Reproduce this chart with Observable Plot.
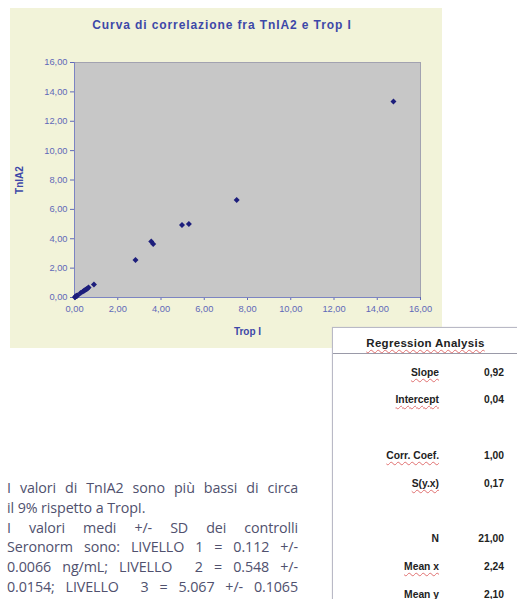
<!DOCTYPE html>
<html><head><meta charset="utf-8">
<script src="https://cdn.jsdelivr.net/npm/d3@7"></script>
<script src="https://cdn.jsdelivr.net/npm/@observablehq/plot@0.6"></script>
<style>
body{margin:0;background:#fff;width:517px;height:599px;overflow:hidden;position:relative;font-family:Arial,"Liberation Sans",sans-serif;}
#panel{position:absolute;left:10px;top:8px;width:432px;height:340px;background:#f2f3d9;}
#title{position:absolute;left:0;top:10px;width:424px;text-align:center;font-weight:bold;font-size:12px;letter-spacing:0.9px;color:#3d48a8;}
#chart{position:absolute;left:0;top:34px;}
#table{position:absolute;left:332px;top:327px;width:200px;height:290px;background:#fff;border:1px solid #b9b9c6;box-shadow:0 0 1px #ccc;}
#thead{position:absolute;left:0;top:0;width:185px;height:25px;border-bottom:1px solid #9a9aa8;text-align:center;font-weight:bold;font-size:11.5px;line-height:30px;color:#222;letter-spacing:0.3px;}
.row{position:absolute;left:0;width:200px;font-weight:bold;font-size:10.3px;color:#222;}
.lab{position:absolute;right:94px;white-space:nowrap;}
.val{position:absolute;right:29px;white-space:nowrap;}
.sq{text-decoration:underline wavy #e07070;text-decoration-thickness:1px;text-underline-offset:2px;}
#para{position:absolute;left:7px;top:478px;width:291px;font-family:"Open Sans","Noto Sans",sans-serif;font-size:14.3px;letter-spacing:-0.1px;line-height:19.8px;color:#50516e;}
#para div{text-align:justify;text-align-last:justify;}
#para div.l{text-align:left;text-align-last:left;}
</style></head>
<body>
<div id="panel"><div id="title"></div><div id="chart"></div></div>
<div id="table"><div id="thead"><span class="sq">Regression Analysis</span></div></div>
<div id="para"></div>
<script>
const chartTitle = "Curva di correlazione fra TnIA2 e Trop I";
const xLabel = "Trop I";
const yLabel = "TnIA2";
const tropI = [0.02,0.04,0.06,0.10,0.11,0.13,0.28,0.38,0.44,0.50,0.55,0.60,0.65,0.90,2.82,3.55,3.64,4.97,5.29,7.50,14.75];
const tnIA2 = [0.02,0.05,0.08,0.10,0.12,0.14,0.30,0.40,0.46,0.52,0.56,0.62,0.68,0.88,2.56,3.81,3.65,4.94,5.01,6.64,13.35];
const axisTicks = [0,2,4,6,8,10,12,14,16];
const statLabels = ["Slope","Intercept","Corr. Coef.","S(y.x)","N","Mean x","Mean y"];
const statValues = ["0,92","0,04","1,00","0,17","21,00","2,24","2,10"];
const statSquiggle = [true,true,true,true,false,true,true];
const paraLines = [
  "I valori di TnIA2 sono più bassi di circa",
  "il 9% rispetto a TropI.",
  "I valori medi +/- SD dei controlli",
  "Seronorm sono: LIVELLO 1 = 0.112 +/-",
  "0.0066 ng/mL; LIVELLO  2 = 0.548 +/-",
  "0.0154; LIVELLO  3 = 5.067 +/- 0.1065"
];
const paraLeft = [false,true,false,false,false,false];

document.getElementById("title").textContent = chartTitle;
const data = tropI.map((x,i)=>({x, y:tnIA2[i]}));
const fmt = d => d.toFixed(2).replace(".", ",");
const axisColor = "#5f68b8";
const plot = Plot.plot({
  width: 432, height: 306,
  marginLeft: 64, marginRight: 22, marginTop: 20, marginBottom: 51,
  style: {background: "transparent", fontFamily: "Arial, Liberation Sans, sans-serif", fontSize: "9.3px"},
  x: {domain: [0,16]},
  y: {domain: [0,16]},
  marks: [
    Plot.frame({fill: "#c7c7c7", stroke: "#a2a2b0"}),
    Plot.axisY({ticks: axisTicks, tickFormat: fmt, tickSize: 4, tickPadding: 3, color: axisColor,
      label: yLabel, labelAnchor: "center", labelArrow: "none", labelOffset: 59}),
    Plot.axisX({ticks: axisTicks, tickFormat: fmt, tickSize: 3, tickPadding: 5, color: axisColor,
      label: xLabel, labelAnchor: "center", labelArrow: "none", labelOffset: 37}),
    Plot.ruleX([0], {stroke: "#7c84c2"}),
    Plot.ruleY([0], {stroke: "#7c84c2"}),
    Plot.dot(data, {x: "x", y: "y", symbol: "diamond2", r: 2.7, fill: "#1d1e7c", stroke: "none"})
  ]
});
document.getElementById("chart").appendChild(plot);
plot.querySelectorAll("g[aria-label='y-axis label'] text, g[aria-label='x-axis label'] text").forEach(t=>{t.setAttribute("font-weight","bold");t.setAttribute("font-size","10");t.setAttribute("fill","#3d48a8");});

const rowTops = [39, 66, 122, 150, 205, 233, 261];
const table = document.getElementById("table");
statLabels.forEach((lab,i)=>{
  const r = document.createElement("div");
  r.className = "row"; r.style.top = rowTops[i] + "px";
  const l = document.createElement("span"); l.className = "lab";
  const inner = document.createElement("span"); inner.textContent = lab;
  if (statSquiggle[i]) inner.className = "sq";
  l.appendChild(inner);
  const v = document.createElement("span"); v.className = "val"; v.textContent = statValues[i];
  r.appendChild(l); r.appendChild(v); table.appendChild(r);
});
const para = document.getElementById("para");
paraLines.forEach((t,i)=>{
  const d = document.createElement("div");
  d.textContent = t; d.style.whiteSpace = "pre";
  if (paraLeft[i]) d.className = "l";
  para.appendChild(d);
});
</script>
</body></html>
